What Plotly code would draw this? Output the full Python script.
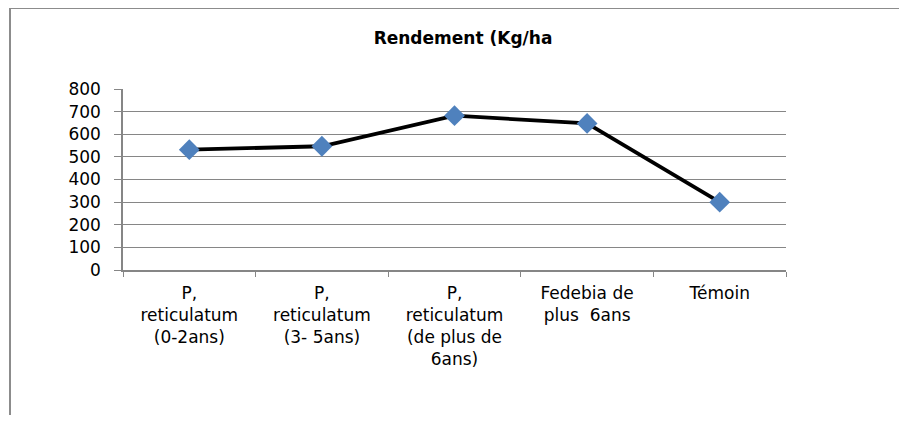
import plotly.graph_objects as go

categories = [
    "P,<br>reticulatum<br>(0-2ans)",
    "P,<br>reticulatum<br>(3- 5ans)",
    "P,<br>reticulatum<br>(de plus de<br>6ans)",
    "Fedebia de<br>plus  6ans",
    "Témoin",
]
rendement = [532, 547, 682, 648, 300]
y_ticks = [0, 100, 200, 300, 400, 500, 600, 700, 800]

# page body has an 8px margin, so target pixel positions are shifted by 8
OFF = 8
W, H = 907, 423
L = 123 - OFF
T = 89 - OFF
R = W - (786 - OFF)
B = H - (270 - OFF)
pw = W - L - R
ph = H - T - B

def px_x(x):
    return (x - OFF - L) / pw

def px_y(y):
    return (H - B - (y - OFF)) / ph

fig = go.Figure()
fig.add_trace(go.Scatter(
    x=categories, y=rendement, mode="lines+markers",
    line=dict(color="black", width=3.8),
    marker=dict(symbol="diamond", size=16, color="#4F81BD",
                line=dict(width=0)),
    showlegend=False,
))

font_family = "DejaVu Sans, sans-serif"
fig.update_layout(
    width=W, height=H,
    margin=dict(l=L, r=R, t=T, b=B),
    paper_bgcolor="white", plot_bgcolor="white",
    font=dict(family=font_family, color="black", size=17),
    title=dict(text="<b>Rendement (Kg/ha</b>", x=(463 - OFF) / W, xanchor="center",
               y=1 - (38 - OFF) / H, yanchor="middle",
               font=dict(size=17, family=font_family, color="black")),
    xaxis=dict(
        type="category", showgrid=False, showline=True, linecolor="#868686",
        linewidth=1.5, ticks="outside", tickson="boundaries", ticklen=5,
        tickcolor="#868686", tickfont=dict(size=17), range=[-0.5, 4.5],
        mirror=False, ticklabelstandoff=7,
    ),
    yaxis=dict(
        range=[0, 800], tickvals=y_ticks, showgrid=True, gridcolor="#868686",
        gridwidth=1, showline=True, linecolor="#868686", linewidth=1.5,
        ticks="outside", ticklen=7, tickcolor="#868686", tickfont=dict(size=17),
        zeroline=False, ticklabelstandoff=10,
    ),
    shapes=[
        dict(type="line", xref="paper", yref="paper",
             x0=px_x(10), x1=px_x(10), y0=px_y(8), y1=px_y(415),
             line=dict(color="#8c8c8c", width=2)),
        dict(type="line", xref="paper", yref="paper",
             x0=px_x(10), x1=px_x(907), y0=px_y(8), y1=px_y(8),
             line=dict(color="#8c8c8c", width=2)),
    ],
)

fig.write_html("out.html")
